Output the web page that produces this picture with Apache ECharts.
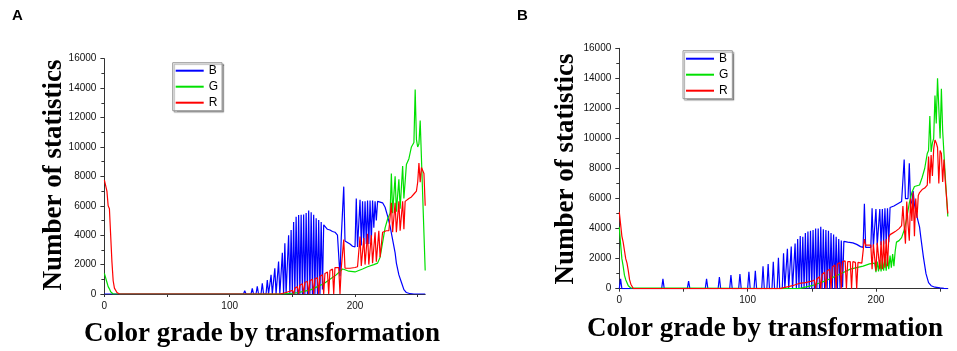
<!DOCTYPE html>
<html>
<head>
<meta charset="utf-8">
<script src="https://cdn.jsdelivr.net/npm/echarts@6/dist/echarts.min.js"></script>
<style>
html, body { margin: 0; padding: 0; background: #fff; }
#chart { width: 957px; height: 351px; }
</style>
</head>
<body>
<div id="chart"></div>
<script>
// histogram values, [color grade, count]
const aBlue = [[0,0],[101,0],[102,80],[103,0],[106,0],[107,130],[108,0],[111,0],[112,220],[113,0],[117,0],[118,380],[119,0],[121,0],[122,520],[123,0],[125,0],[126,730],[127,0],[129,0],[130,950],[131,0],[132,0],[133,1300],[134,0],[135,0],[136,1750],[137,0],[138,0],[139,2200],[140,0],[141,0],[142,2800],[143,0],[144,3450],[145,0],[146,0],[147,4000],[148,0],[149,4350],[150,0],[151,4900],[152,0],[153,5250],[154,0],[155,5370],[156,0],[157,5380],[158,0],[159,5400],[160,0],[161,5500],[162,0],[163,5680],[164,0],[165,5550],[166,0],[167,5380],[168,0],[169,5150],[170,0],[171,5030],[172,0],[173,4900],[174,300],[175,4700],[176,4600],[178,4400],[180,4350],[182,4250],[184,4200],[186,4000],[187,3900],[188,1200],[189,3800],[190,3700],[191,7300],[192,3600],[194,3500],[196,3400],[198,3250],[200,3200],[201,6500],[202,3200],[203,3250],[204,6400],[205,3300],[206,6300],[207,3300],[208,6300],[209,3400],[210,6350],[211,3400],[212,6350],[213,3600],[214,6350],[215,4500],[216,6300],[217,5000],[218,6300],[219,6300],[220,6250],[222,6200],[224,5900],[226,5300],[228,4600],[230,3700],[232,2800],[233,2100],[235,1300],[237,800],[239,300],[241,100],[244,20],[247,0],[256,0]];
const aGreen = [[0,1400],[1,1300],[2,800],[3,500],[4,350],[5,150],[7,0],[140,0],[150,50],[155,100],[160,200],[165,300],[170,500],[175,700],[180,1000],[185,1300],[190,1700],[192,1650],[195,1550],[200,1500],[203,1600],[206,1700],[210,1850],[215,2000],[218,2100],[220,2500],[222,3500],[224,4500],[226,5100],[228,5500],[229,8200],[230,5500],[232,8000],[233,5600],[235,7800],[236,5800],[238,8700],[239,6500],[241,8800],[243,9200],[245,10000],[247,10300],[248,13900],[249,10500],[250,10000],[251,10200],[252,11800],[256,1600]];
const aRed = [[0,7750],[1,7700],[2,7000],[3,6000],[4,5800],[5,4000],[6,2200],[7,900],[8,400],[10,100],[12,0],[140,0],[145,100],[150,250],[151,0],[152,400],[154,500],[155,0],[156,600],[158,700],[159,0],[160,800],[162,850],[163,0],[164,900],[166,1000],[167,0],[168,1050],[170,1100],[171,0],[172,1200],[174,1300],[175,0],[176,1400],[178,1500],[179,0],[180,1600],[182,1700],[183,0],[184,1800],[187,1800],[188,0],[189,1750],[191,3700],[192,1750],[196,1750],[200,1800],[201,1800],[202,1850],[204,3900],[205,1900],[206,1950],[207,3800],[208,2000],[209,2000],[210,4100],[211,2000],[212,2100],[213,4000],[214,2100],[215,2200],[216,4200],[217,2200],[218,2300],[219,4300],[220,2500],[222,4200],[225,4300],[227,4300],[228,4200],[229,6200],[230,4200],[231,4200],[232,6200],[233,4200],[234,4300],[235,6300],[236,4300],[237,4400],[238,6300],[239,4400],[240,6300],[241,6400],[243,6500],[245,6600],[247,6800],[249,7000],[250,7600],[251,8900],[252,7600],[253,8600],[254,8700],[255,8200],[256,6000]];

const bBlue = [[0,0],[1,650],[2,0],[33,0],[34,650],[35,0],[53,0],[54,500],[55,0],[67,0],[68,650],[69,0],[77,0],[78,780],[79,0],[86,0],[87,900],[88,0],[93,0],[94,980],[95,0],[100,0],[101,1130],[102,0],[105,0],[106,1200],[107,0],[111,0],[112,1500],[113,0],[115,0],[116,1650],[117,0],[119,0],[120,1800],[121,0],[123,0],[124,2050],[125,0],[127,0],[128,2350],[129,0],[130,0],[131,2650],[132,0],[133,0],[134,2800],[135,0],[136,0],[137,3000],[138,0],[139,3300],[140,0],[141,3500],[142,0],[143,3450],[144,0],[145,3700],[146,0],[147,3800],[148,0],[149,3850],[150,0],[151,3900],[152,0],[153,4000],[154,0],[155,4000],[156,0],[157,4130],[158,0],[159,3950],[160,0],[161,3900],[162,0],[163,3850],[164,0],[165,3700],[166,0],[167,3600],[168,0],[169,3450],[170,0],[171,3300],[172,0],[173,3200],[174,100],[175,3150],[178,3100],[182,3050],[185,2950],[188,2800],[190,2750],[191,5650],[192,2750],[196,2750],[197,5350],[198,2800],[199,2800],[200,5300],[201,2900],[202,2900],[203,5300],[204,2900],[205,5300],[206,2950],[207,5350],[208,3000],[209,5350],[210,3100],[211,5400],[212,5400],[214,5500],[216,5600],[218,5700],[220,5800],[221,5800],[222,8600],[223,6000],[224,5900],[225,6000],[226,8350],[227,5600],[228,5800],[229,6500],[230,5600],[232,4800],[234,4100],[235,3400],[237,2100],[239,1000],[241,400],[243,200],[246,100],[250,50],[253,20],[256,0]];
const bGreen = [[0,4100],[1,3000],[2,2000],[3,1500],[4,900],[5,600],[6,400],[7,200],[9,50],[10,0],[140,0],[145,100],[150,200],[155,350],[160,500],[165,700],[170,900],[175,1100],[180,1300],[185,1400],[190,1500],[191,1600],[195,1650],[199,1700],[200,1100],[201,1800],[202,1150],[203,1900],[204,1150],[205,2000],[206,1200],[207,2000],[208,1200],[209,2100],[210,1300],[211,2200],[212,1400],[213,2300],[214,1500],[215,2500],[216,3100],[218,3200],[220,3400],[222,3900],[224,4700],[226,5700],[228,6400],[230,6800],[232,6850],[234,6900],[236,7400],[238,8000],[240,9000],[241,9200],[242,11500],[243,9100],[244,9700],[245,10000],[246,12850],[247,11000],[248,14000],[249,12000],[250,10000],[251,13300],[252,10500],[254,7500],[256,4800]];
const bRed = [[0,5100],[1,5100],[2,3500],[3,3100],[4,3000],[5,2000],[6,1700],[7,1200],[8,600],[9,300],[11,0],[125,0],[130,100],[135,200],[140,350],[145,400],[150,500],[152,580],[153,0],[154,650],[156,800],[157,0],[158,950],[160,1100],[161,0],[162,1200],[164,1300],[165,0],[166,1450],[168,1580],[169,0],[170,1650],[172,1750],[173,0],[174,1800],[176,1850],[177,0],[178,1800],[180,1800],[181,0],[182,1800],[184,1750],[185,0],[186,1750],[189,1700],[190,1700],[191,3300],[192,2900],[196,2900],[197,1300],[198,2950],[199,3000],[200,1200],[201,3050],[202,3100],[203,1300],[204,3150],[205,1300],[206,3200],[207,1400],[208,3300],[209,1500],[210,3400],[211,3600],[213,3700],[215,3800],[218,4000],[220,4200],[221,5500],[222,4200],[223,3000],[224,5800],[225,4300],[226,3200],[227,6000],[228,4500],[229,6400],[230,3500],[231,6000],[232,4700],[233,6200],[234,6400],[236,6600],[238,6700],[240,6900],[241,8800],[242,7000],[243,8900],[244,7500],[245,9300],[246,9900],[247,9700],[248,9400],[249,7000],[250,9200],[251,9000],[252,7100],[253,8600],[254,7200],[256,5000]];

const xTicks = [0, 50, 100, 150, 200, 250];
const xLabels = [0, 100, 200];
const yMax = 16000;
const yStep = 2000;
const names = ['B', 'G', 'R'];
const colors = ['#0000ff', '#00e000', '#ff0000'];

const chart = echarts.init(document.getElementById('chart'));

function xAxisFor(i) {
    return {
        type: 'value', gridIndex: i, min: 0, max: 256,
        axisLine: { lineStyle: { color: '#333', width: 1 } },
        axisTick: { customValues: xTicks, length: 3, lineStyle: { color: '#333' } },
        axisLabel: { customValues: xLabels, margin: 7, fontSize: 10, color: '#111', fontFamily: 'Liberation Sans' },
        splitLine: { show: false }
    };
}
function yAxisFor(i) {
    return {
        type: 'value', gridIndex: i, min: 0, max: yMax, interval: yStep,
        axisLine: { show: true, lineStyle: { color: '#333', width: 1 } },
        axisTick: { show: true, length: 4, lineStyle: { color: '#333' } },
        minorTick: { show: true, splitNumber: 2, length: 3, lineStyle: { color: '#333' } },
        axisLabel: { margin: 8, fontSize: 10, color: '#111', fontFamily: 'Liberation Sans', formatter: v => String(v) },
        splitLine: { show: false }
    };
}
function legendAt(left, top) {
    return {
        data: names, left: left, top: top, orient: 'vertical',
        padding: [1, 4, 1, 3], itemGap: 2, itemWidth: 28, itemHeight: 2, icon: 'rect',
        textStyle: { fontSize: 12, lineHeight: 14, color: '#000', fontFamily: 'Liberation Sans' },
        backgroundColor: '#fff', borderColor: '#999', borderWidth: 1,
        shadowColor: 'rgba(0,0,0,0.35)', shadowBlur: 1, shadowOffsetX: 1.5, shadowOffsetY: 1.5
    };
}
function lineSeries(name, data, color, i) {
    return {
        name: name, type: 'line', data: data, xAxisIndex: i, yAxisIndex: i,
        symbol: 'none', lineStyle: { color: color, width: 1.2 }, itemStyle: { color: color }
    };
}
function title(text, x, y, rotate) {
    return {
        type: 'text', x: x, y: y, rotation: rotate ? Math.PI / 2 : 0,
        style: {
            text: text, x: 0, y: 0, fill: '#000',
            font: 'bold 27px "Liberation Serif"',
            align: 'center', verticalAlign: 'middle', textAlign: 'center', textVerticalAlign: 'middle'
        }
    };
}
function panelLabel(text, x, y) {
    return {
        type: 'text', x: x, y: y,
        style: { text: text, fill: '#000', font: 'bold 15px "Liberation Sans"', align: 'left', verticalAlign: 'middle', textAlign: 'left', textVerticalAlign: 'middle' }
    };
}

chart.setOption({
    animation: false,
    grid: [
        { left: 104.4, top: 58.7, width: 320.8, height: 235.3 },
        { left: 619.3, top: 48.3, width: 328.5, height: 240.4 }
    ],
    xAxis: [xAxisFor(0), xAxisFor(1)],
    yAxis: [yAxisFor(0), yAxisFor(1)],
    legend: [legendAt(172.7, 62.7), legendAt(683, 50.7)],
    series: [
        lineSeries('B', aBlue, colors[0], 0),
        lineSeries('G', aGreen, colors[1], 0),
        lineSeries('R', aRed, colors[2], 0),
        lineSeries('B', bBlue, colors[0], 1),
        lineSeries('G', bGreen, colors[1], 1),
        lineSeries('R', bRed, colors[2], 1)
    ],
    graphic: [
        panelLabel('A', 12, 16),
        panelLabel('B', 517, 16),
        title('Number of statistics', 54, 175, true),
        title('Color grade by transformation', 262, 334, false),
        title('Number of statistics', 566, 169, true),
        title('Color grade by transformation', 765, 329, false)
    ]
});
</script>
</body>
</html>
